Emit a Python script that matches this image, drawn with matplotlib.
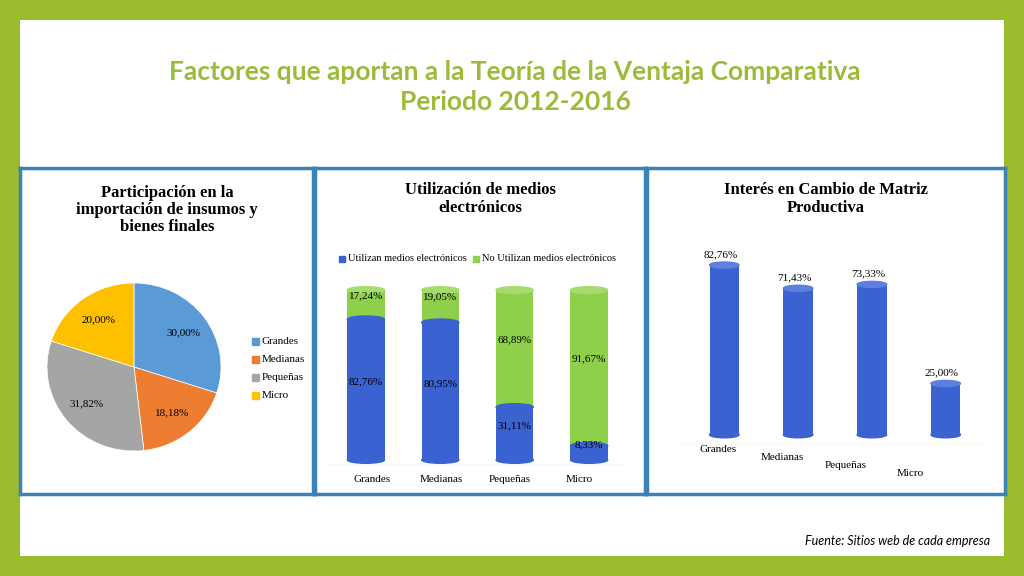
import matplotlib
matplotlib.use("Agg")
import matplotlib.pyplot as plt
from matplotlib.patches import Rectangle, Ellipse
import numpy as np

pie_labels = ["Grandes", "Medianas", "Pequeñas", "Micro"]
pie_values = [30.00, 18.18, 31.82, 20.00]
pie_colors = ["#5B9BD5", "#ED7D31", "#A5A5A5", "#FFC000"]

cats = ["Grandes", "Medianas", "Pequeñas", "Micro"]
utilizan = [82.76, 80.95, 31.11, 8.33]
no_utilizan = [17.24, 19.05, 68.89, 91.67]
interes = [82.76, 71.43, 73.33, 25.00]

W, H = 1024, 576
fig = plt.figure(figsize=(W/100, H/100), dpi=100)
fig.patch.set_facecolor("#9BBB2E")
def ax_px(x0, y0, x1, y1):
    return fig.add_axes([x0/W, 1-y1/H, (x1-x0)/W, (y1-y0)/H])

bg = ax_px(20, 20, 1004, 556); bg.set_xlim(0, 1); bg.set_ylim(0, 1); bg.axis("off")
bg.add_patch(Rectangle((0, 0), 1, 1, color="white"))
green = "#9BBB3B"
fig.text(515/W, 1-72/H, "Factores que aportan a la Teoría de la Ventaja Comparativa",
         ha="center", va="center", color=green, fontsize=19, fontweight="bold", family="Lato")
fig.text(515/W, 1-102/H, "Periodo 2012-2016", ha="center", va="center",
         color=green, fontsize=19, fontweight="bold", family="Lato")
fig.text(990/W, 1-541/H, "Fuente: Sitios web de cada empresa", ha="right", va="center",
         fontsize=9, style="italic", family="Lato")

blue_border = "#3B83B5"
for x0, x1 in [(20, 313), (315, 645), (647, 1005)]:
    a = ax_px(x0, 168, x1, 494); a.set_xlim(0, 1); a.set_ylim(0, 1)
    a.set_xticks([]); a.set_yticks([])
    for s in a.spines.values():
        s.set_color(blue_border); s.set_linewidth(2.5)
    a.set_facecolor("none")

serif = "Liberation Serif"
fig.text(167/W, 1-210/H, "Participación en la\nimportación de insumos y\nbienes finales",
         ha="center", va="center", fontsize=12, fontweight="bold", family=serif, linespacing=1.1)
fig.text(480/W, 1-199/H, "Utilización de medios\nelectrónicos", ha="center", va="center",
         fontsize=12, fontweight="bold", family=serif, linespacing=1.1)
fig.text(826/W, 1-199/H, "Interés en Cambio de Matriz\nProductiva", ha="center", va="center",
         fontsize=12, fontweight="bold", family=serif, linespacing=1.1)

# Pie (ellipse-ish)
pa = ax_px(47, 283, 221, 451)
pa.pie(pie_values, colors=pie_colors, startangle=90, counterclock=False,
       wedgeprops=dict(edgecolor="white", linewidth=0.5))
pa.set_aspect("auto"); pa.set_xlim(-1.0, 1.0); pa.set_ylim(-1.0, 1.0)
ang = 90
for v in pie_values:
    mid = np.deg2rad(ang - v*3.6/2); ang -= v*3.6
    pa.text(0.7*np.cos(mid), 0.7*np.sin(mid), f"{v:.2f}%".replace(".", ","),
            ha="center", va="center", fontsize=8, family=serif)
for i, (lab, c) in enumerate(zip(pie_labels, pie_colors)):
    y = 341 + i*18
    fig.patches.append(Rectangle((252/W, 1-(y+4)/H), 7/W, 7/H, color=c, transform=fig.transFigure))
    fig.text(262/W, 1-y/H, lab, va="center", fontsize=8, family=serif)

# Stacked cylinders
bblue = "#3A62D0"; bgreen = "#8ED04A"
ba = ax_px(325, 285, 630, 465)
x = np.arange(4)
bw = 0.5
ba.bar(x, utilizan, bw, color=bblue)
ba.bar(x, no_utilizan, bw, bottom=utilizan, color=bgreen)
for i in range(4):
    ba.add_patch(Ellipse((i, 100), bw, 4, color="#A5DC6E", zorder=3))
    ba.add_patch(Ellipse((i, utilizan[i]), bw, 4, color=bblue, zorder=3))
    ba.add_patch(Ellipse((i, 0), bw, 4, color=bblue, zorder=1))
    ba.text(i, utilizan[i]/2 + 3, f"{utilizan[i]:.2f}%".replace(".", ","), ha="center", fontsize=8, family=serif, zorder=4)
    ba.text(i, utilizan[i] + no_utilizan[i]/2 + 4, f"{no_utilizan[i]:.2f}%".replace(".", ","), ha="center", fontsize=8, family=serif, zorder=4)
ba.set_xlim(-0.55, 3.55); ba.set_ylim(-3, 103); ba.axis("off")
ba.plot([-0.55, 3.55], [-3, -3], color="#999999", lw=0.8)
for i, c in enumerate(cats):
    fig.text((372 + i*69)/W, 1-480/H, c, ha="center", va="center", fontsize=8, family=serif)
fig.patches.append(Rectangle((339/W, 1-262/H), 6/W, 6/H, color=bblue, transform=fig.transFigure))
fig.text(348/W, 1-258/H, "Utilizan medios electrónicos", va="center", fontsize=7.5, family=serif)
fig.patches.append(Rectangle((473/W, 1-262/H), 6/W, 6/H, color=bgreen, transform=fig.transFigure))
fig.text(482/W, 1-258/H, "No Utilizan medios electrónicos", va="center", fontsize=7.5, family=serif)

# Interest cylinders
ia = ax_px(680, 240, 990, 445)
ia.bar(x, interes, 0.4, color=bblue)
for i in range(4):
    ia.add_patch(Ellipse((i, interes[i]), 0.4, 3, color="#5C7FE0", zorder=3))
    ia.add_patch(Ellipse((i, 0), 0.4, 3, color=bblue, zorder=1))
    ia.text(i - 0.05, interes[i] + 4, f"{interes[i]:.2f}%".replace(".", ","), ha="center", fontsize=8, family=serif)
ia.set_xlim(-0.6, 3.6); ia.set_ylim(-5, 95); ia.axis("off")
ia.plot([-0.6, 3.6], [-5, -5], color="#999999", lw=0.8)
for i, c in enumerate(cats):
    fig.text((718 + i*64)/W, 1-(450 + i*8)/H, c, ha="center", va="center", fontsize=8, family=serif)

fig.savefig("out.png", dpi=100, facecolor=fig.get_facecolor())
